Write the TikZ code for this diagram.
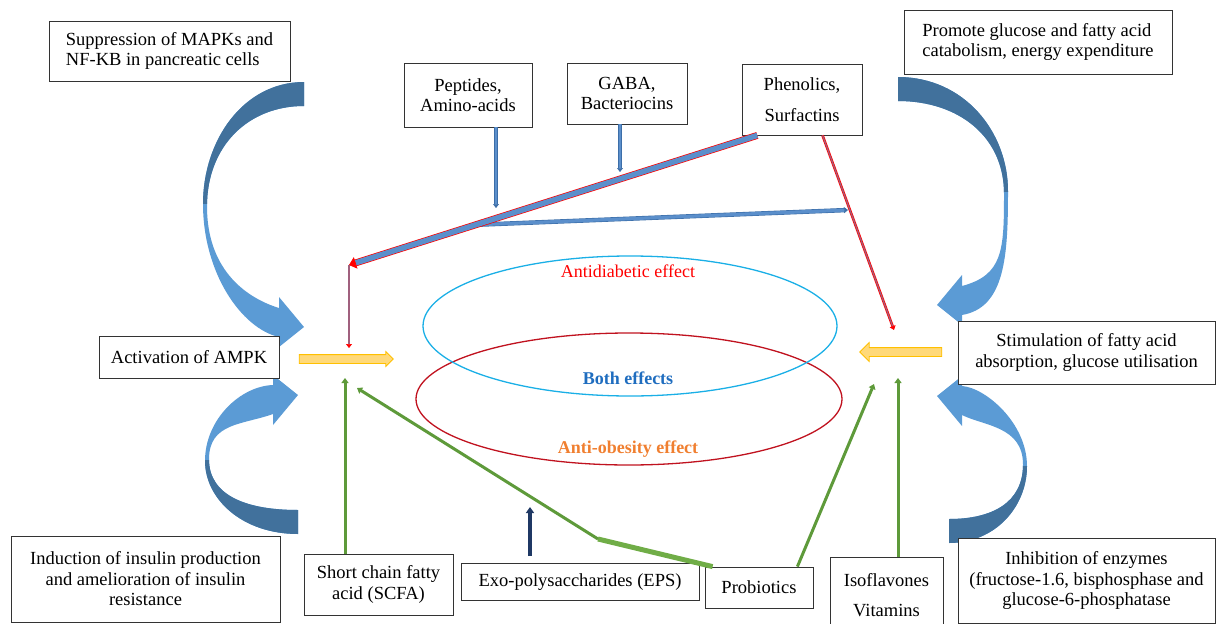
\documentclass[tikz,border=0pt]{standalone}
\usepackage{fontspec}
\setmainfont{Liberation Serif}
\usepackage{xcolor}
\usetikzlibrary{calc}
\usetikzlibrary{arrows.meta}
\usetikzlibrary{shapes.arrows}

\definecolor{bandDark}{HTML}{41719C}
\definecolor{bandLight}{HTML}{5B9BD5}
\definecolor{lineBlue}{HTML}{3C6EA8}
\definecolor{fillBlue}{HTML}{5B8FCB}
\definecolor{mauveCore}{HTML}{A0607E}
\definecolor{ringBlue}{HTML}{1AAFE6}
\definecolor{ringRed}{HTML}{C0121F}
\definecolor{leafGreen}{HTML}{5E9A3A}
\definecolor{leafLight}{HTML}{70AD47}
\definecolor{navyArrow}{HTML}{1F3864}
\definecolor{sunFill}{HTML}{FFD97A}
\definecolor{sunEdge}{HTML}{FFC000}
\definecolor{effOrange}{HTML}{F07F30}
\definecolor{effBlue}{HTML}{1F6DBF}

% curved band arrow: width, height, head shift
\newcommand{\bendpath}[3]{(0,0) .. controls ({-0.6*#1},0) and ({-#1},{0.22*#2}) .. ({-#1},{0.46*#2})
  .. controls ({-#1},{0.72*#2}) and ({-0.62*#1-(#3)},{0.93*#2}) .. ({-25-(#3)},{#2-10})
  -- ({-25-(#3)},{#2}) -- ({0-(#3)},{#2-20}) -- ({-25-(#3)},{#2-50}) -- ({-25-(#3)},{#2-39})
  .. controls ({-0.6*#1-(#3)},{#2-50}) and ({-#1+4},{0.7*#2}) .. ({-#1+4},{0.47*#2})
  .. controls ({-#1+4},{0.24*#2}) and ({-0.55*#1},24) .. (0,24) -- cycle}
\newcommand{\bendarrow}[3]{%
  \fill[bandLight] \bendpath{#1}{#2}{#3};
  \begin{scope}
    \clip ({-#1-10},-5) rectangle (10,{0.46*#2});
    \fill[bandDark] \bendpath{#1}{#2}{#3};
  \end{scope}}

\begin{document}
\begin{tikzpicture}[x=1pt,y=-1pt,
  box/.style={draw=black!80, fill=white, line width=0.8pt, inner sep=0pt, align=center, font=\fontsize{18.5}{20.5}\selectfont},
  thinblue/.style={draw=lineBlue, double=fillBlue, double distance=2.2pt, line width=0.6pt, -{Triangle[length=4pt,width=6pt]}},
  redblue/.style={draw=red, double=fillBlue, double distance=5.5pt, line width=0.7pt, -{Triangle[length=7pt,width=12pt]}},
  redthin/.style={draw=red, double=mauveCore, double distance=1.2pt, line width=0.7pt, -{Triangle[length=4pt,width=6pt]}},
  leaf/.style={draw=leafGreen, line width=3pt, -{Triangle[length=5pt,width=7pt]}},
  sun/.style={single arrow, draw=sunEdge, fill=sunFill, line width=0.8pt, inner sep=4pt, single arrow head extend=3pt, minimum height=#1},
  effect/.style={font=\fontsize{18}{20}\selectfont}]
  \useasboundingbox (0,0) rectangle (1216,624);

  % curved arrows
  \begin{scope}[shift={(304,82)}] \bendarrow{101}{265}{0} \end{scope}
  \begin{scope}[shift={(298,534)},yscale=-1] \bendarrow{93}{159}{0} \end{scope}
  \begin{scope}[shift={(898,77)},xscale=-1] \bendarrow{110}{248}{39} \end{scope}
  \begin{scope}[shift={(949,543)},xscale=-1,yscale=-1] \bendarrow{78}{167}{-12} \end{scope}

  % boxes
  \node[box, align=left, minimum width=241, minimum height=60] (supp) at (169.5,51) {Suppression of MAPKs and\\NF-KB in pancreatic cells};
  \node[box, align=left, minimum width=268, minimum height=64] (promo) at (1038,42) {Promote glucose and fatty acid\\catabolism, energy expenditure};
  \node[box, minimum width=128, minimum height=64] (pep) at (468,95) {Peptides,\\Amino-acids};
  \node[box, minimum width=120, minimum height=61] (gaba) at (627,93.5) {GABA,\\Bacteriocins};
  \node[box, minimum width=120, minimum height=71] (phen) at (802,99.5) {Phenolics,\\[10pt]Surfactins};
  \node[box, minimum width=180, minimum height=42] (ampk) at (189,357) {Activation of AMPK};
  \node[box, minimum width=257, minimum height=63] (stim) at (1086.5,352.5) {Stimulation of fatty acid\\absorption, glucose utilisation};
  \node[box, minimum width=269, minimum height=86] (indu) at (145.5,579) {Induction of insulin production\\and amelioration of insulin\\resistance};
  \node[box, minimum width=149, minimum height=61] (scfa) at (378.5,584.5) {Short chain fatty\\acid (SCFA)};
  \node[box, minimum width=238, minimum height=37] (eps) at (580,582) {Exo-polysaccharides (EPS)};
  \node[box, minimum width=108, minimum height=41] (prob) at (759,587.5) {Probiotics};
  \node[box, minimum width=113, minimum height=76] (iso) at (886.5,595) {Isoflavones\\[9pt]Vitamins};
  \node[box, minimum width=257, minimum height=85] (inhi) at (1086.5,580.5) {Inhibition of enzymes\\(fructose-1.6, bisphosphase and\\glucose-6-phosphatase};

  % effect rings
  \draw[ringRed, line width=1.3pt] (629,399) ellipse [x radius=213, y radius=66];
  \draw[ringBlue, line width=1.3pt] (630,326) ellipse [x radius=207, y radius=70];
  \node[effect, text=red] (antid) at (628,271) {Antidiabetic effect};
  \node[effect, text=effBlue, font=\fontsize{18}{20}\bfseries] (both) at (628,378) {Both effects};
  \node[effect, text=effOrange, font=\fontsize{18}{20}\bfseries] (antio) at (628,449) {Anti-obesity effect};

  % yellow arrows
  \node[sun=94] (yl) at (344,359) {};
  \node[sun=82, shape border rotate=180, single arrow head extend=5pt] (yr) at (903,352) {};

  % free ends
  \coordinate (amtop) at (349,265);
  \coordinate (ampkin) at (349,348);
  \coordinate (pepend) at (496,208);
  \coordinate (gabend) at (620,172);
  \coordinate (forkend) at (848,210);
  \coordinate (stimin) at (894,330);
  \coordinate (scfaend) at (345,378);
  \coordinate (bend) at (598,539);
  \coordinate (probend) at (357,388);
  \coordinate (proright) at (874,384);
  \coordinate (isoend) at (898,378);
  \coordinate (epstip) at (530,507);
  \coordinate (phenL) at ($(phen.south west)!0.13!(phen.south east)$);
  \coordinate (phenR) at ($(phen.south west)!0.67!(phen.south east)$);
  \coordinate (fork) at ($(phenL)!0.69!(amtop)$);

  % top arrows
  \draw[thinblue] (pep.south -| pepend) -- (pepend);
  \draw[thinblue] (gaba.south -| gabend) -- (gabend);
  \draw[thinblue, double distance=3.2pt] (fork) -- (forkend);
  \draw[redblue] (phenL) -- (amtop);
  \draw[redthin] (amtop) -- (ampkin);
  \draw[redthin] (phenR) -- (stimin);

  % bottom arrows
  \draw[leaf] (scfa.north -| scfaend) -- (scfaend);
  \draw[leafLight, line width=5pt] ($(prob.north west)+(8,0)$) -- (bend);
  \draw[leaf] (bend) -- (probend);
  \draw[leaf] ($(prob.north east)+(-16,0)$) -- (proright);
  \draw[leaf] (iso.north -| isoend) -- (isoend);
  \draw[navyArrow, line width=3.5pt, -{Triangle[length=6pt,width=8pt]}] ($(eps.north -| epstip)+(0,-7)$) -- (epstip);
\end{tikzpicture}
\end{document}
